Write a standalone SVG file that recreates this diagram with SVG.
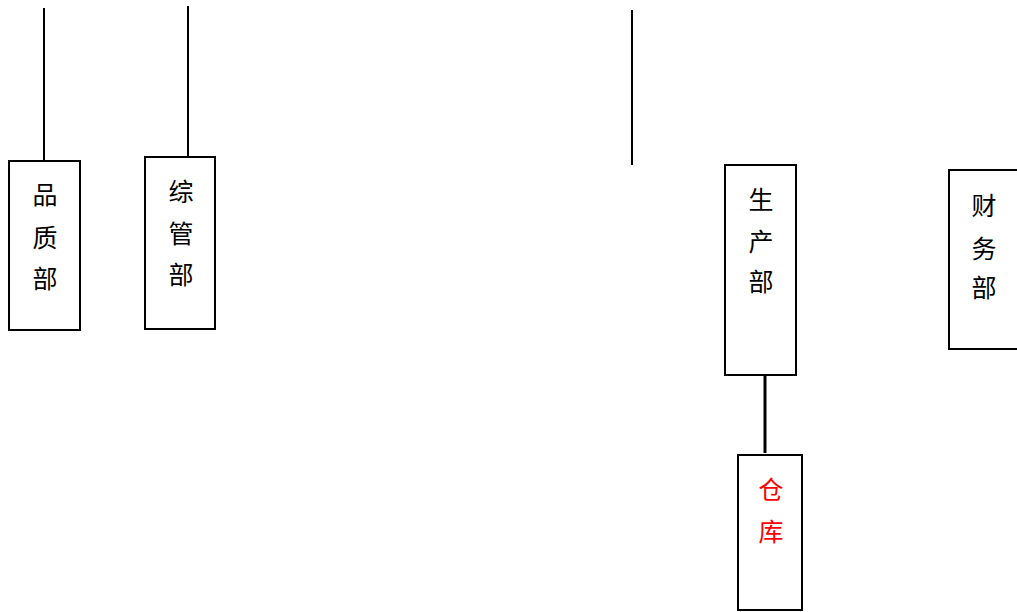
<svg xmlns="http://www.w3.org/2000/svg" width="1017" height="612" viewBox="0 0 1017 612">
<style>
.box{fill:#fff;stroke:#000;stroke-width:2}
.ln{stroke:#000;stroke-width:2;fill:none}
.t{font-family:"Noto Sans CJK SC","Liberation Serif",sans-serif;font-size:25px;text-anchor:middle;dominant-baseline:central;fill:#000}
.red{fill:#ff0000}
</style>
<rect width="1017" height="612" fill="#fff"/>
<g id="connectors">
<line class="ln" x1="44" y1="8" x2="44" y2="161"/>
<line class="ln" x1="188" y1="6" x2="188" y2="157"/>
<line class="ln" x1="632" y1="10" x2="632" y2="165"/>
<line class="ln" x1="765" y1="375" x2="765" y2="453" style="stroke-width:3"/>
</g>
<g id="pinzhi">
<rect class="box" x="9" y="161" width="71" height="169"/>
<text class="t" x="45" y="193">品</text>
<text class="t" x="45" y="236">质</text>
<text class="t" x="45" y="277">部</text>
</g>
<g id="zongguan">
<rect class="box" x="145" y="157" width="70" height="172"/>
<text class="t" x="181" y="190">综</text>
<text class="t" x="181" y="232">管</text>
<text class="t" x="181" y="273">部</text>
</g>
<g id="shengchan">
<rect class="box" x="725" y="165" width="71" height="210"/>
<text class="t" x="761" y="198">生</text>
<text class="t" x="761" y="240">产</text>
<text class="t" x="761" y="280">部</text>
</g>
<g id="caiwu">
<rect class="box" x="949" y="170" width="80" height="179"/>
<text class="t" x="984" y="204">财</text>
<text class="t" x="984" y="247">务</text>
<text class="t" x="984" y="286">部</text>
</g>
<g id="cangku">
<rect class="box" x="738" y="455" width="64" height="155"/>
<text class="t red" x="771" y="488">仓</text>
<text class="t red" x="771" y="530">库</text>
</g>
</svg>
